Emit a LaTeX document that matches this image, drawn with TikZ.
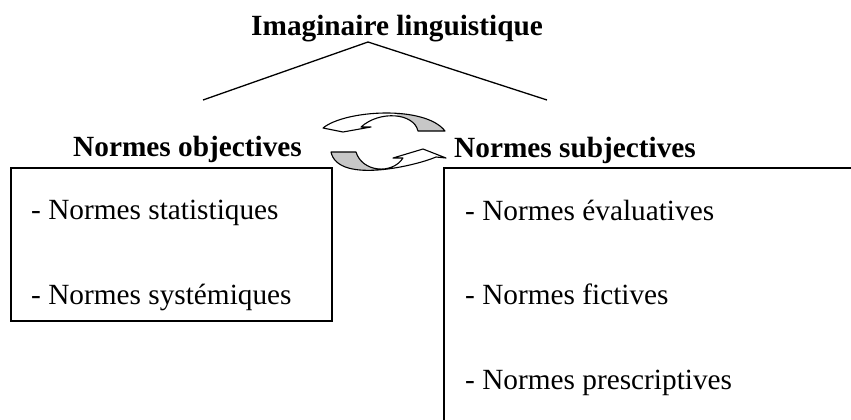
\documentclass[tikz,border=0pt]{standalone}
\usepackage{fontspec}
\setmainfont{Liberation Serif}
\begin{document}
\begin{tikzpicture}[x=1pt,y=-1pt,
  txt/.style={anchor=base west,inner sep=0pt,font=\fontsize{29.3}{35}\selectfont},
  head/.style={txt,font=\fontsize{29.3}{35}\selectfont\bfseries},
  ln/.style={line width=1.3pt,line join=miter},
  arr/.style={line width=1.1pt,line join=round},
  shade/.style={fill=black!22}]
\useasboundingbox (0,0) rectangle (851,420);
% title and roof
\node[head] (title) at (251,36) {Imaginaire linguistique};
\coordinate (apex) at (368,42);
\coordinate (roofL) at (203,100);
\coordinate (roofR) at (547,100);
\draw[ln] (roofL) -- (apex) -- (roofR);
% headings
\node[head] (obj) at (73,156) {Normes objectives};
\node[head] (subj) at (454,157) {Normes subjectives};
% left box
\draw[ln] (11,168) rectangle (332,321);
\node[txt] (stat) at (31,219) {- Normes statistiques};
\node[txt] (syst) at (31,304) {- Normes systémiques};
% right box (open, runs off the page)
\draw[ln] (444,425) -- (444,168) -- (856,168);
\node[txt] (eval) at (465,220) {- Normes évaluatives};
\node[txt] (fict) at (465,304) {- Normes fictives};
\node[txt] (presc) at (465,389) {- Normes prescriptives};
% top curved arrow (pointing left)
\def\toparrow{(323,128) .. controls (345,110) and (425,105) .. (445,131)
  -- (418,131) .. controls (414,113) and (380,110) .. (361,127)
  -- (371,127) -- (343,132) -- cycle}
\fill[white] \toparrow;
\begin{scope}
  \clip \toparrow;
  \fill[shade] (397,100) rectangle (460,140);
\end{scope}
\draw[arr] \toparrow;
% bottom curved arrow (pointing right)
\def\botarrow{(331,152) .. controls (338,185) and (418,165) .. (436,157)
  -- (446,158) -- (423,149) -- (393,158) -- (403,158)
  .. controls (392,175) and (362,172) .. (356,152) -- cycle}
\fill[white] \botarrow;
\begin{scope}
  \clip \botarrow;
  \fill[shade] (320,145) rectangle (377,180);
\end{scope}
\draw[arr] \botarrow;
\end{tikzpicture}
\end{document}
